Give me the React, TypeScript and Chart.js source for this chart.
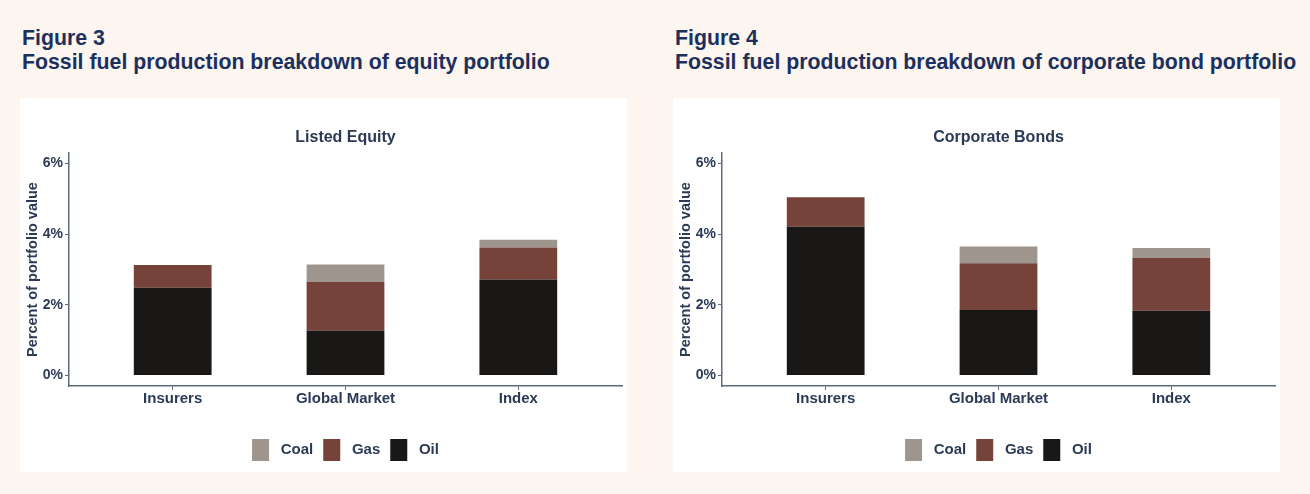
import React, { useEffect, useRef } from "react";
import { Chart, registerables } from "chart.js";

Chart.register(...registerables);

const categories = ["Insurers", "Global Market", "Index"];
const seriesNames = ["Oil", "Gas", "Coal"];
const seriesColors = ["#191816", "#76433A", "#9E968E"];

const equityOil = [2.48, 1.27, 2.72];
const equityGas = [0.65, 1.38, 0.9];
const equityCoal = [0, 0.49, 0.22];

const bondOil = [4.21, 1.85, 1.83];
const bondGas = [0.84, 1.33, 1.5];
const bondCoal = [0, 0.47, 0.28];

const yTicks = [0, 2, 4, 6];

const FONT = "'Liberation Sans', Arial, sans-serif";
const TEXT = "#2A3A57";
const AXIS = "#5E6A7C";
const TITLE = "#1C305E";

function StackChart({ title, series }: { title: string; series: number[][] }) {
  const ref = useRef<HTMLCanvasElement | null>(null);
  useEffect(() => {
    if (!ref.current) return;
    const chart = new Chart(ref.current, {
      type: "bar",
      data: {
        datasets: series.map((vals, si) => ({
          label: seriesNames[si],
          data: vals.map((v, i) => ({ x: i + 1, y: v })),
          backgroundColor: seriesColors[si],
          borderWidth: 0,
          categoryPercentage: 1,
          barPercentage: 0.45,
        })),
      },
      options: {
        responsive: false,
        animation: false,
        layout: { padding: { top: 0, left: 4, right: 5, bottom: 1 } },
        plugins: {
          tooltip: { enabled: false },
          title: {
            display: true,
            text: title,
            fullSize: false,
            color: TEXT,
            font: { family: FONT, size: 16, weight: "bold" },
            padding: { top: 30.4, bottom: 5.4 },
          },
          legend: {
            position: "bottom",
            fullSize: false,
            reverse: true,
            labels: {
              boxWidth: 17,
              boxHeight: 22,
              padding: 10,
              color: TEXT,
              font: { family: FONT, size: 15, weight: "bold" },
              generateLabels: (c: any) => {
                const items = Chart.defaults.plugins.legend.labels.generateLabels(c);
                return items.map((it: any) => ({ ...it, text: " " + it.text }));
              },
            },
          },
        },
        scales: {
          x: {
            type: "linear",
            stacked: true,
            offset: false,
            min: 0.4,
            max: 3.6,
            afterBuildTicks: (s: any) => {
              s.ticks = categories.map((_, i) => ({ value: i + 1 }));
            },
            afterFit: (s: any) => {
              s.height = 43;
            },
            ticks: {
              color: TEXT,
              padding: 0,
              font: { family: FONT, size: 15, weight: "bold" },
              callback: (v: any) => categories[Math.round(Number(v)) - 1] ?? "",
            },
            grid: { offset: false, drawOnChartArea: false, drawTicks: true, tickLength: 4, color: AXIS, lineWidth: 1 },
            border: { display: true, color: AXIS, width: 1.5 },
          },
          y: {
            type: "linear",
            stacked: true,
            min: -0.3,
            max: 6.3,
            afterBuildTicks: (s: any) => {
              s.ticks = yTicks.map((v) => ({ value: v }));
            },
            afterFit: (s: any) => {
              s.width = 45;
            },
            ticks: {
              color: TEXT,
              padding: 2,
              font: { family: FONT, size: 14, weight: "bold" },
              callback: (v: any) => v + "%",
            },
            title: {
              display: true,
              text: "Percent of portfolio value",
              color: TEXT,
              padding: 0,
              font: { family: FONT, size: 14.5, weight: "bold" },
            },
            grid: { drawOnChartArea: false, drawTicks: true, tickLength: 4, color: AXIS, lineWidth: 1 },
            border: { display: true, color: AXIS, width: 1.5 },
          },
        },
      } as any,
    });
    return () => chart.destroy();
  }, [title, series]);
  return <canvas ref={ref} width={607} height={374} style={{ display: "block", width: 607, height: 374 }} />;
}

const equitySeries = [equityOil, equityGas, equityCoal];
const bondSeries = [bondOil, bondGas, bondCoal];

function Panel({ left, fig, heading, title, series }: any) {
  return (
    <>
      <div
        style={{
          position: "absolute",
          left: left + 2,
          top: 26,
          color: TITLE,
          fontFamily: FONT,
          fontWeight: "bold",
          fontSize: 21.3,
          lineHeight: "24px",
          whiteSpace: "nowrap",
        }}
      >
        <div>{fig}</div>
        <div>{heading}</div>
      </div>
      <div style={{ position: "absolute", left, top: 98, width: 607, height: 374, background: "#FFFFFF" }}>
        <StackChart title={title} series={series} />
      </div>
    </>
  );
}

export default function App() {
  return (
    <div
      style={{
        position: "absolute",
        left: 0,
        top: 0,
        width: 1310,
        height: 494,
        background: "#FDF5F0",
        overflow: "hidden",
      }}
    >
      <Panel
        left={20}
        fig="Figure 3"
        heading="Fossil fuel production breakdown of equity portfolio"
        title="Listed Equity"
        series={equitySeries}
      />
      <Panel
        left={673}
        fig="Figure 4"
        heading="Fossil fuel production breakdown of corporate bond portfolio"
        title="Corporate Bonds"
        series={bondSeries}
      />
    </div>
  );
}
